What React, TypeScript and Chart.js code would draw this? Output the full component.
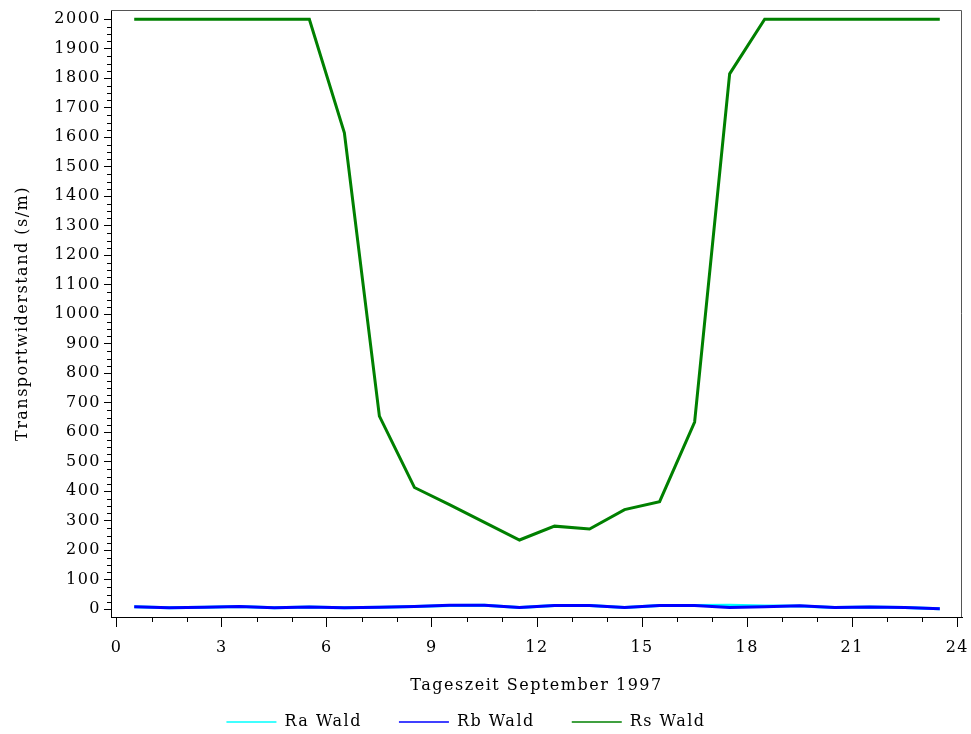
import React, { useEffect, useRef } from "react";
import { Chart, registerables } from "chart.js";

Chart.register(...registerables);

// ---- data ----
const hours = [0.5, 1.5, 2.5, 3.5, 4.5, 5.5, 6.5, 7.5, 8.5, 9.5, 10.5, 11.5, 12.5, 13.5, 14.5, 15.5, 16.5, 17.5, 18.5, 19.5, 20.5, 21.5, 22.5, 23.5];
const raWald = [9, 5, 7, 10, 5, 8, 5, 7, 10, 13, 14, 6, 13, 13, 6, 13, 13, 14, 11, 11, 6, 8, 6, 2];
const rbWald = [9, 5, 7, 10, 5, 8, 5, 7, 10, 14, 14, 6, 13, 13, 6, 13, 13, 6, 9, 12, 6, 8, 6, 2];
const rsWald = [2000, 2000, 2000, 2000, 2000, 2000, 1615, 655, 413, 355, 295, 235, 282, 272, 338, 365, 635, 1815, 2000, 2000, 2000, 2000, 2000, 2000];
const seriesLabels = ["Ra Wald", "Rb Wald", "Rs Wald"];
const seriesColors = ["#00ffff", "#0000ff", "#008000"];
const xTickValues = [0, 3, 6, 9, 12, 15, 18, 21, 24];
const yTickValues = [0, 100, 200, 300, 400, 500, 600, 700, 800, 900, 1000, 1100, 1200, 1300, 1400, 1500, 1600, 1700, 1800, 1900, 2000];
const xTitle = "Tageszeit September 1997";
const yTitle = "Transportwiderstand (s/m)";

const FONT = { family: "'DejaVu Serif', serif", size: 16 };
const SPACING = "1.5px";
const LEGEND_DX = -15;
const LEGEND_TOP = 677;

export default function App() {
  const ref = useRef<HTMLCanvasElement | null>(null);

  useEffect(() => {
    const canvas = ref.current;
    if (!canvas) return;
    const setSpacing = (chart: any) => {
      (chart.ctx as any).letterSpacing = SPACING;
    };
    const framePlugin = {
      id: "sasFrame",
      beforeInit: setSpacing,
      beforeUpdate: setSpacing,
      beforeLayout: setSpacing,
      beforeDraw: setSpacing,
      afterLayout(chart: any) {
        const lg = chart.legend;
        if (lg) {
          lg.left += LEGEND_DX;
          lg.right += LEGEND_DX;
          lg.top = LEGEND_TOP;
          lg.bottom = chart.height;
        }
      },
      afterDraw(chart: any) {
        const { ctx, chartArea: a, scales } = chart;
        const x = scales.x;
        const y = scales.y;
        ctx.save();
        ctx.lineWidth = 1;
        // top and right frame
        ctx.strokeStyle = "#555";
        ctx.beginPath();
        ctx.moveTo(a.left, Math.round(a.top) + 0.5);
        ctx.lineTo(Math.round(a.right) - 0.5, Math.round(a.top) + 0.5);
        ctx.lineTo(Math.round(a.right) - 0.5, a.bottom);
        ctx.stroke();
        // minor ticks
        ctx.strokeStyle = "#000";
        ctx.beginPath();
        for (let h = 0; h <= 24; h++) {
          if (h % 3 === 0) continue;
          const px = Math.round(x.getPixelForValue(h)) + 0.5;
          ctx.moveTo(px, a.bottom);
          ctx.lineTo(px, a.bottom + 5);
        }
        for (let v = 0; v <= 2000; v += 25) {
          if (v % 100 === 0) continue;
          const py = Math.round(y.getPixelForValue(v)) + 0.5;
          ctx.moveTo(a.left - 4, py);
          ctx.lineTo(a.left, py);
        }
        ctx.stroke();
        ctx.restore();
      },
    };

    const series = [raWald, rbWald, rsWald];
    const orders = [2, 1, 0];
    const chart = new Chart(canvas, {
      type: "line",
      data: {
        datasets: series.map((vals, i) => ({
          label: seriesLabels[i],
          data: hours.map((h, j) => ({ x: h, y: vals[j] })),
          borderColor: seriesColors[i],
          backgroundColor: seriesColors[i],
          borderWidth: 3,
          pointRadius: 0,
          tension: 0,
          fill: false,
          order: orders[i],
        })),
      },
      options: {
        animation: false,
        responsive: false,
        maintainAspectRatio: false,
        color: "#000",
        font: FONT,
        layout: { padding: { left: 0, top: 10, right: 9, bottom: 0 } },
        plugins: {
          tooltip: { enabled: false },
          legend: {
            display: true,
            position: "bottom",
            maxHeight: 36,
            labels: {
              usePointStyle: true,
              pointStyleWidth: 50,
              padding: 37,
              color: "#000",
              font: FONT,
              sort: (a: any, b: any) => a.datasetIndex - b.datasetIndex,
              generateLabels: (ch: any) =>
                seriesLabels.map((t, i) => ({
                  text: t,
                  datasetIndex: i,
                  strokeStyle: seriesColors[i],
                  fillStyle: seriesColors[i],
                  lineWidth: 1.5,
                  pointStyle: "line",
                  hidden: !ch.isDatasetVisible(i),
                })),
            },
          },
        },
        scales: {
          x: {
            type: "linear",
            min: -0.163,
            max: 24.134,
            afterBuildTicks: (s: any) => {
              s.ticks = xTickValues.map((v) => ({ value: v }));
            },
            afterFit: (s: any) => {
              s.height = 81;
              s.paddingLeft = 0;
              s.paddingRight = 0;
            },
            ticks: { color: "#000", font: FONT, padding: 11, maxRotation: 0, autoSkip: false, callback: (v: any) => String(v) },
            grid: { drawOnChartArea: false, drawTicks: true, tickLength: 10, color: "#000", lineWidth: 1 },
            border: { display: true, color: "#000", width: 1 },
            title: { display: true, text: xTitle, color: "#000", font: FONT, padding: { top: 0, bottom: 3 } },
          },
          y: {
            type: "linear",
            min: -26,
            max: 2031.5,
            afterBuildTicks: (s: any) => {
              s.ticks = yTickValues.map((v) => ({ value: v }));
            },
            afterFit: (s: any) => {
              s.width = 111;
              s.paddingTop = 0;
              s.paddingBottom = 0;
            },
            ticks: { color: "#000", font: FONT, padding: 3, autoSkip: false, callback: (v: any) => String(v) },
            grid: { drawOnChartArea: false, drawTicks: true, tickLength: 7, color: "#000", lineWidth: 1 },
            border: { display: true, color: "#000", width: 1 },
            title: { display: true, text: yTitle, color: "#000", font: FONT, padding: { top: 13, bottom: 0 } },
          },
        },
      },
      plugins: [framePlugin],
    });
    return () => chart.destroy();
  }, []);

  return (
    <div style={{ position: "fixed", left: 0, top: 0, width: 971, height: 734, background: "#fff" }}>
      <canvas ref={ref} width={971} height={734} style={{ display: "block" }} />
    </div>
  );
}
